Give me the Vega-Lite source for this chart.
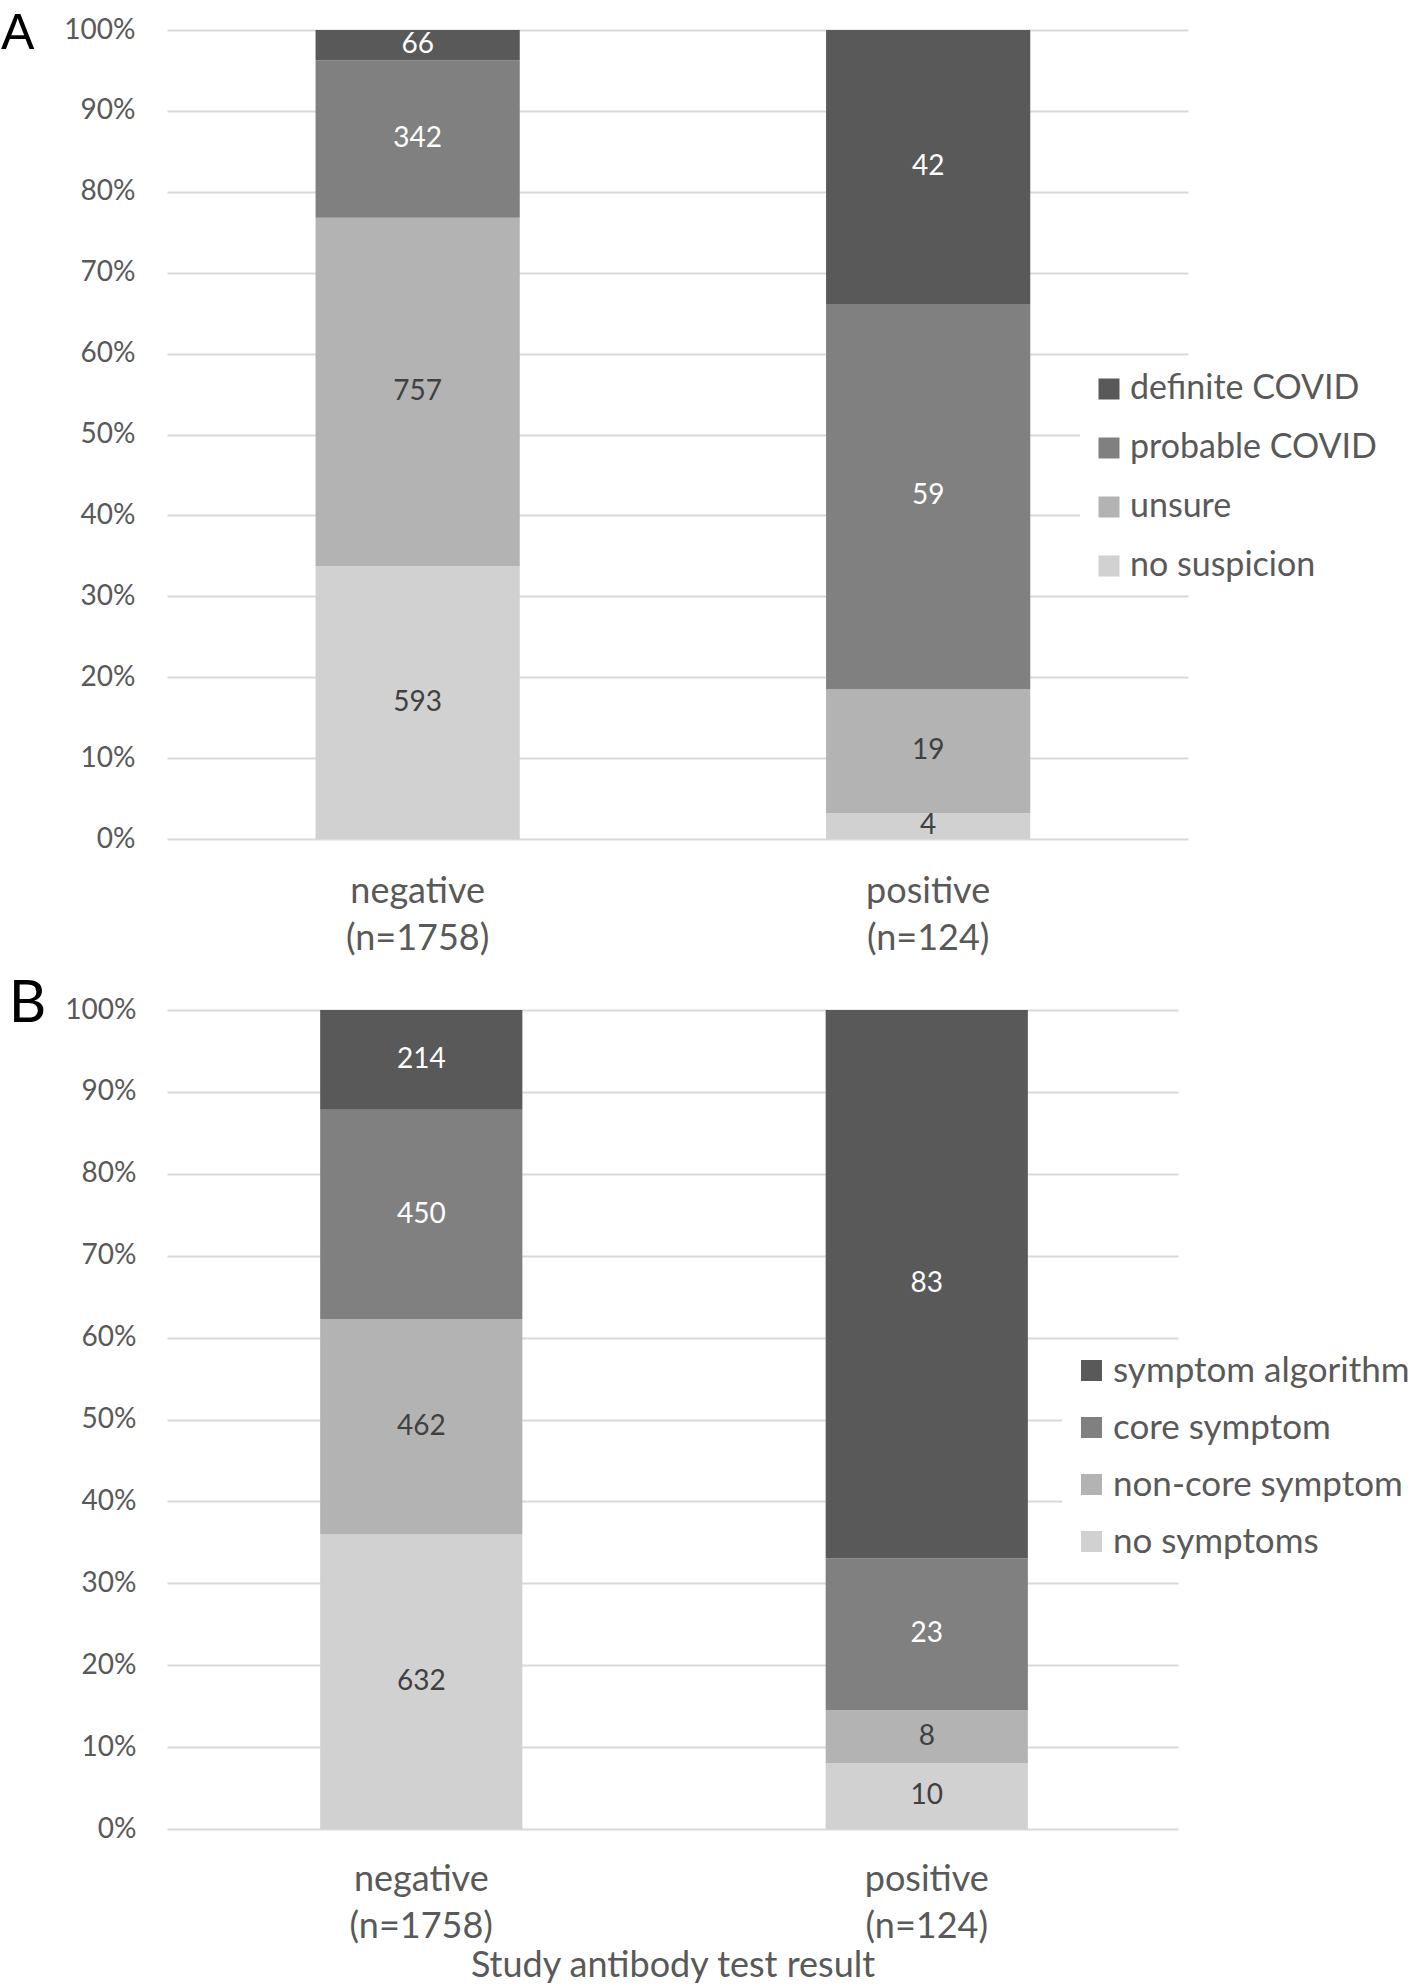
{
  "$schema": "https://vega.github.io/schema/vega-lite/v6.json",
  "padding": {"top": 8, "left": 0, "right": 0, "bottom": 0},
  "background": "white",
  "config": {
    "font": "Lato",
    "view": {"stroke": null},
    "concat": {"spacing": 19}
  },
  "datasets": {
    "a": [
      {"group": "negative (n=1758)", "category": "no suspicion", "rank": 1, "count": 593},
      {"group": "negative (n=1758)", "category": "unsure", "rank": 2, "count": 757},
      {"group": "negative (n=1758)", "category": "probable COVID", "rank": 3, "count": 342},
      {"group": "negative (n=1758)", "category": "definite COVID", "rank": 4, "count": 66},
      {"group": "positive (n=124)", "category": "no suspicion", "rank": 1, "count": 4},
      {"group": "positive (n=124)", "category": "unsure", "rank": 2, "count": 19},
      {"group": "positive (n=124)", "category": "probable COVID", "rank": 3, "count": 59},
      {"group": "positive (n=124)", "category": "definite COVID", "rank": 4, "count": 42}
    ],
    "b": [
      {"group": "negative (n=1758)", "category": "no symptoms", "rank": 1, "count": 632},
      {"group": "negative (n=1758)", "category": "non-core symptom", "rank": 2, "count": 462},
      {"group": "negative (n=1758)", "category": "core symptom", "rank": 3, "count": 450},
      {"group": "negative (n=1758)", "category": "symptom algorithm", "rank": 4, "count": 214},
      {"group": "positive (n=124)", "category": "no symptoms", "rank": 1, "count": 10},
      {"group": "positive (n=124)", "category": "non-core symptom", "rank": 2, "count": 8},
      {"group": "positive (n=124)", "category": "core symptom", "rank": 3, "count": 23},
      {"group": "positive (n=124)", "category": "symptom algorithm", "rank": 4, "count": 83}
    ]
  },
  "resolve": {"scale": {"color": "independent"}, "legend": {"color": "independent"}},
  "vconcat": [
    {
      "width": 1021,
      "height": 809,
      "data": {"name": "a"},
      "transform": [
        {"stack": "count", "groupby": ["group"], "sort": [{"field": "rank", "order": "ascending"}], "offset": "normalize", "as": ["y0", "y1"]},
        {"calculate": "(datum.y0 + datum.y1) / 2", "as": "ymid"}
      ],
      "encoding": {
        "x": {
          "field": "group", "type": "nominal", "sort": null,
          "scale": {"paddingInner": 0.6, "paddingOuter": 0.3, "align": 0.485},
          "axis": {
            "title": null, "labelAngle": 0, "labelExpr": "split(datum.label, ' ')",
            "labelFontSize": 36, "labelColor": "#595959", "labelLineHeight": 47,
            "labelPadding": 35, "labelBaseline": "top",
            "domain": false, "ticks": false, "grid": false
          }
        }
      },
      "layer": [
        {
          "mark": {"type": "bar"},
          "encoding": {
            "y": {
              "field": "y1", "type": "quantitative",
              "scale": {"domain": [0, 1], "nice": false},
              "axis": {
                "format": ".0%", "values": [0, 0.1, 0.2, 0.3, 0.4, 0.5, 0.6, 0.7, 0.8, 0.9, 1],
                "title": "A", "titleAngle": 0, "titleAlign": "right", "titleBaseline": "middle",
                "titleAnchor": "end", "titleY": 3, "titleFontSize": 50, "titleFontWeight": "normal",
                "titleColor": "black", "titlePadding": 30, "titleFont": "Liberation Sans",
                "labelPadding": 32, "labelFontSize": 28, "labelColor": "#595959",
                "grid": true, "gridColor": "#d9d9d9", "gridWidth": 2,
                "domain": false, "ticks": false
              }
            },
            "y2": {"field": "y0"},
            "color": {
              "field": "category", "type": "nominal",
              "scale": {
                "domain": ["definite COVID", "probable COVID", "unsure", "no suspicion"],
                "range": ["#595959", "#808080", "#b3b3b3", "#d1d1d1"]
              },
              "legend": {
                "title": null, "orient": "none", "legendX": 913, "legendY": 330,
                "symbolType": "square", "symbolSize": 441, "symbolStrokeWidth": 0,
                "labelFontSize": 34, "labelColor": "#595959", "labelOffset": 4,
                "rowPadding": 25, "padding": 12, "fillColor": "white", "labelLimit": 400
              }
            }
          }
        },
        {
          "mark": {"type": "text", "fontSize": 28, "baseline": "middle", "align": "center"},
          "encoding": {
            "y": {"field": "ymid", "type": "quantitative"},
            "text": {"field": "count", "type": "quantitative"},
            "color": {"condition": {"test": "datum.rank >= 3", "value": "#ffffff"}, "value": "#404040"}
          }
        }
      ]
    },
    {
      "width": 1011,
      "height": 819,
      "data": {"name": "b"},
      "transform": [
        {"stack": "count", "groupby": ["group"], "sort": [{"field": "rank", "order": "ascending"}], "offset": "normalize", "as": ["y0", "y1"]},
        {"calculate": "(datum.y0 + datum.y1) / 2", "as": "ymid"}
      ],
      "encoding": {
        "x": {
          "field": "group", "type": "nominal", "sort": null,
          "scale": {"paddingInner": 0.6, "paddingOuter": 0.3, "align": 0.505},
          "axis": {
            "title": "Study antibody test result", "titleFontSize": 36, "titleColor": "#595959",
            "titleFontWeight": "normal", "titlePadding": 4,
            "labelAngle": 0, "labelExpr": "split(datum.label, ' ')",
            "labelFontSize": 36, "labelColor": "#595959", "labelLineHeight": 47,
            "labelPadding": 33, "labelBaseline": "top",
            "domain": false, "ticks": false, "grid": false
          }
        }
      },
      "layer": [
        {
          "mark": {"type": "bar"},
          "encoding": {
            "y": {
              "field": "y1", "type": "quantitative",
              "scale": {"domain": [0, 1], "nice": false},
              "axis": {
                "format": ".0%", "values": [0, 0.1, 0.2, 0.3, 0.4, 0.5, 0.6, 0.7, 0.8, 0.9, 1],
                "title": "B", "titleAngle": 0, "titleAlign": "right", "titleBaseline": "middle",
                "titleAnchor": "end", "titleY": -6, "titleFontSize": 58, "titleFontWeight": "normal",
                "titleColor": "black", "titlePadding": 19, "titleFont": "Lato",
                "labelPadding": 31, "labelFontSize": 28, "labelColor": "#595959",
                "grid": true, "gridColor": "#d9d9d9", "gridWidth": 2,
                "domain": false, "ticks": false
              }
            },
            "y2": {"field": "y0"},
            "color": {
              "field": "category", "type": "nominal",
              "scale": {
                "domain": ["symptom algorithm", "core symptom", "non-core symptom", "no symptoms"],
                "range": ["#595959", "#808080", "#b3b3b3", "#d1d1d1"]
              },
              "legend": {
                "title": null, "orient": "none", "legendX": 895, "legendY": 331,
                "symbolType": "square", "symbolSize": 441, "symbolStrokeWidth": 0,
                "labelFontSize": 35, "labelColor": "#595959", "labelOffset": 4,
                "rowPadding": 21, "padding": 12, "fillColor": "white", "labelLimit": 400
              }
            }
          }
        },
        {
          "mark": {"type": "text", "fontSize": 28, "baseline": "middle", "align": "center"},
          "encoding": {
            "y": {"field": "ymid", "type": "quantitative"},
            "text": {"field": "count", "type": "quantitative"},
            "color": {"condition": {"test": "datum.rank >= 3", "value": "#ffffff"}, "value": "#404040"}
          }
        }
      ]
    }
  ]
}
